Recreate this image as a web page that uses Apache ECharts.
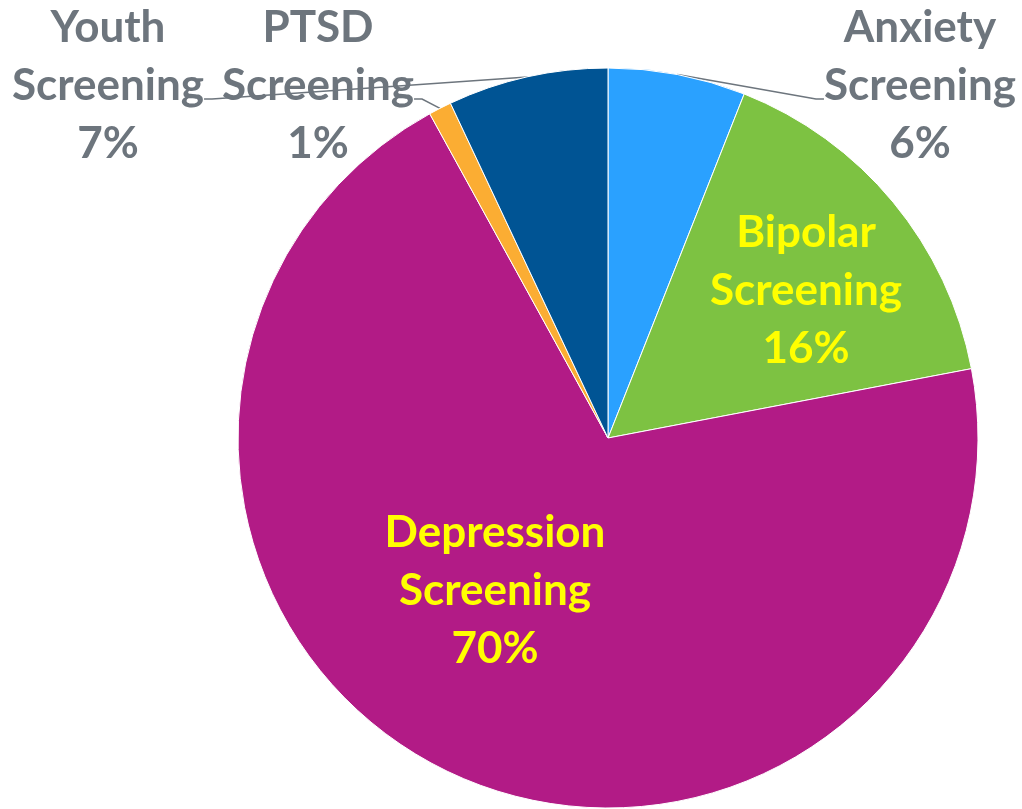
<!DOCTYPE html>
<html>
<head>
<meta charset="utf-8">
<script src="https://cdn.jsdelivr.net/npm/echarts@6/dist/echarts.min.js"></script>
<style>html,body{margin:0;padding:0;background:#fff}#c{width:1022px;height:809px}</style>
</head>
<body>
<div id="c"></div>
<script>
var categories = ['Anxiety Screening', 'Bipolar Screening', 'Depression Screening', 'PTSD Screening', 'Youth Screening'];
var values = [6, 16, 70, 1, 7];
var colors = ['#2AA1FF', '#7DC242', '#B21B86', '#FBAD33', '#005494'];
var insideLabel = [false, true, true, false, false];
var labelPos = [[920, 86], [806, 291], [495, 591], [318, 86], [108, 86]];

var chart = echarts.init(document.getElementById('c'));
var data = categories.map(function (n, i) {
  var inside = insideLabel[i];
  return {
    name: n,
    value: values[i],
    itemStyle: { color: colors[i] },
    label: {
      position: inside ? 'inside' : 'outside',
      color: inside ? '#FFFF00' : '#6D757D',
      overflow: 'none'
    },
    labelLine: { show: !inside }
  };
});
chart.setOption({
  animation: false,
  series: [{
    type: 'pie',
    center: [608, 438],
    radius: 370,
    startAngle: 90,
    clockwise: true,
    itemStyle: { borderColor: '#ffffff', borderWidth: 1 },
    label: {
      show: true,
      fontFamily: 'Lato',
      fontWeight: 'bold',
      fontSize: 44,
      lineHeight: 58,
      align: 'center',
      rich: { pad: { fontSize: 10, lineHeight: 26 } },
      formatter: function (p) {
        var t = p.name.replace(' ', '\n') + '\n' + Math.round(p.percent) + '%';
        return insideLabel[p.dataIndex] ? t : t + '\n{pad| }';
      }
    },
    labelLine: { show: true, length2: 8, lineStyle: { color: '#6D757D', width: 1.5 } },
    labelLayout: function (p) {
      var pos = labelPos[p.dataIndex];
      var shift = insideLabel[p.dataIndex] ? 0 : 13;
      return { x: pos[0], y: pos[1] + shift, align: 'center', verticalAlign: 'middle' };
    },
    data: data
  }]
});
</script>
</body>
</html>
